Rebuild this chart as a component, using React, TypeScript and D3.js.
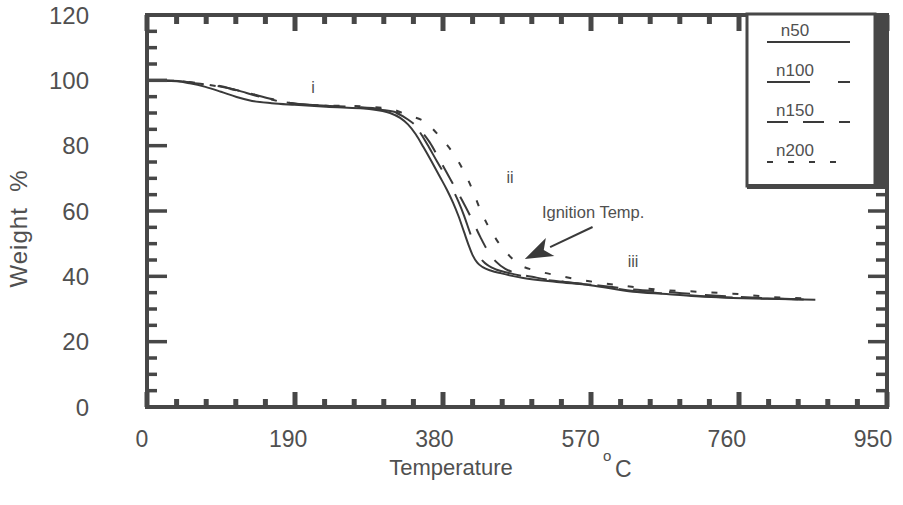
import React from 'react';
import * as d3 from 'd3';

// ---------- data ----------
const xTickLabels = [0, 190, 380, 570, 760, 950];
const yTickLabels = [0, 20, 40, 60, 80, 100, 120];
const seriesNames = ['n50', 'n100', 'n150', 'n200'];

const n50Temp = [0, 38, 55, 75, 95, 115, 135, 160, 190, 230, 290, 312, 325, 335, 345, 355, 365, 376, 385, 393, 400, 407, 413, 418, 424, 431, 442, 455, 483, 526, 569, 624, 667, 710, 752, 796, 858];
const n50Weight = [100, 99.7, 99.1, 98, 96.5, 94.9, 93.7, 93, 92.5, 91.9, 91.1, 90, 88.5, 86.5, 83.5, 79.5, 75.3, 70.5, 66.5, 62.5, 58.4, 53.6, 49.5, 46.5, 44.2, 42.8, 41.7, 40.9, 39.5, 38.3, 37.3, 35.3, 34.6, 33.8, 33.4, 33.1, 32.8];

const n100Temp = [0, 40, 60, 90, 115, 140, 165, 190, 230, 300, 320, 333, 343, 352, 362, 372, 383, 392, 400, 407, 414, 420, 425, 431, 438, 448, 462, 490, 530, 570, 625, 670, 710, 752, 796, 850];
const n100Weight = [100, 99.8, 99.2, 98.3, 97, 95.3, 93.8, 92.9, 92.2, 91, 90.2, 88.6, 86.5, 83.5, 79.5, 75.3, 70.8, 66.8, 62.8, 58.6, 53.8, 49.8, 47, 44.7, 43.3, 42.1, 41.2, 39.7, 38.4, 37.4, 35.5, 34.7, 34, 33.5, 33.2, 32.9];

const n150Temp = [0, 40, 65, 90, 115, 140, 165, 190, 230, 290, 316, 335, 350, 363, 376, 390, 404, 417, 428, 437, 448, 460, 475, 500, 540, 580, 625, 670, 710, 752, 796, 845];
const n150Weight = [100, 99.8, 99, 98.4, 97, 95.5, 94, 92.8, 92.2, 91.5, 90.4, 88, 85, 81, 75.5, 69.5, 63.5, 57.5, 52, 48, 44.5, 42.3, 40.9, 39.6, 38.2, 37.2, 36, 35.2, 34.4, 33.8, 33.3, 32.9];

const n200Temp = [0, 40, 70, 90, 110, 132, 155, 180, 220, 280, 316, 334, 359, 376, 393, 406, 418, 428, 436, 449, 462, 479, 502, 528, 568, 616, 658, 706, 752, 800, 840];
const n200Weight = [100, 99.8, 99, 98.2, 97.2, 96, 94.5, 93, 92.4, 92, 91, 89.4, 86.9, 82.7, 77.7, 72.5, 66.4, 60.3, 56.3, 51.1, 47.1, 43.5, 41.6, 40.2, 38.5, 37, 35.9, 35.3, 34.7, 33.7, 33.3];

const regionLabels = ['i', 'ii', 'iii'];
const regionTemp = [213, 466, 624];
const regionWeight = [96, 68.6, 42.9];

const ignitionText = 'Ignition Temp.';
const ignitionTextAt = [507, 57.9];
const arrowFrom = [572, 55.1];
const arrowTo = [485, 45.3];

// ---------- styling ----------
const W = 903;
const H = 505;
const INK = '#474747';
const LINE = '#3a3a3a';
const TEXT = '#505050';
const FONT = '"Liberation Sans", Arial, Helvetica, sans-serif';
const dashes = ['none', '43 28', '21 15', '6 15'];

export default function App() {
  const x = d3.scaleLinear().domain([0, 950]).range([147, 887]);
  const xLab = d3.scaleLinear().domain([0, 950]).range([142, 873]);
  const y = d3.scaleLinear().domain([0, 120]).range([407, 15]);

  const series = [
    { name: seriesNames[0], t: n50Temp, w: n50Weight },
    { name: seriesNames[1], t: n100Temp, w: n100Weight },
    { name: seriesNames[2], t: n150Temp, w: n150Weight },
    { name: seriesNames[3], t: n200Temp, w: n200Weight },
  ];

  const line = d3
    .line<[number, number]>()
    .x((d) => x(d[0]))
    .y((d) => y(d[1]))
    .curve(d3.curveMonotoneX);

  const xMinor = d3.range(0, 950 + 1, 38);
  const yMinor = d3.range(0, 120 + 1, 5);

  const x0 = x(0), x1 = x(950), y0 = y(0), y1 = y(120);

  // arrow geometry
  const ax1 = x(arrowFrom[0]), ay1 = y(arrowFrom[1]);
  const ax2 = x(arrowTo[0]), ay2 = y(arrowTo[1]);
  const ang = Math.atan2(ay2 - ay1, ax2 - ax1);
  const headLen = 28, headW = 10, notch = 7;
  const bx = ax2 - headLen * Math.cos(ang), by = ay2 - headLen * Math.sin(ang);
  const px = -Math.sin(ang), py = Math.cos(ang);
  const head = `${ax2},${ay2} ${bx + px * headW},${by + py * headW} ${bx + notch * Math.cos(ang)},${by + notch * Math.sin(ang)} ${bx - px * headW},${by - py * headW}`;

  // legend layout
  const lgX = 747, lgY = 14, lgR = 875, lgB = 186;

  return (
    <svg width={W} height={H} style={{ display: 'block', position: 'absolute', left: 0, top: 0, background: '#fff' }}>
      <rect x={0} y={0} width={W} height={H} fill="#fff" />

      {/* curves */}
      {series.map((s, i) => (
        <path
          key={s.name}
          d={line(s.t.map((t, k) => [t, s.w[k]] as [number, number])) || ''}
          fill="none"
          stroke={LINE}
          strokeWidth={2}
          strokeDasharray={dashes[i]}
        />
      ))}

      {/* ticks */}
      {xMinor.map((v, i) => {
        const major = i % 5 === 0;
        return (
          <g key={'xt' + v}>
            <line x1={x(v)} x2={x(v)} y1={y0} y2={y0 - (major ? 15 : 8)} stroke={INK} strokeWidth={5} />
            <line x1={x(v)} x2={x(v)} y1={y1} y2={y1 + (major ? 16 : 9)} stroke={INK} strokeWidth={5} />
          </g>
        );
      })}
      {yMinor.map((v, i) => {
        const major = i % 4 === 0;
        return (
          <g key={'yt' + v}>
            <line x1={x0} x2={x0 + (major ? 20 : 10)} y1={y(v)} y2={y(v)} stroke={INK} strokeWidth={3.5} />
            <line x1={x1} x2={x1 - (major ? 19 : 11)} y1={y(v)} y2={y(v)} stroke={INK} strokeWidth={3.5} />
          </g>
        );
      })}

      {/* frame */}
      <rect x={x0} y={y1} width={x1 - x0} height={y0 - y1} fill="none" stroke={INK} strokeWidth={4} />

      {/* tick labels */}
      {xTickLabels.map((v) => (
        <text key={'xl' + v} x={xLab(v)} y={447} textAnchor="middle" fontFamily={FONT} fontSize={23} fill={TEXT}>
          {v}
        </text>
      ))}
      {yTickLabels.map((v) => (
        <text key={'yl' + v} x={89} y={y(v) + 8.5} textAnchor="end" fontFamily={FONT} fontSize={24} fill={TEXT}>
          {v}
        </text>
      ))}

      {/* axis titles */}
      <text x={451} y={475} textAnchor="middle" fontFamily={FONT} fontSize={22} fill={TEXT}>
        Temperature
      </text>
      <text x={603} y={461} fontFamily={FONT} fontSize={15} fill={TEXT}>o</text>
      <text x={615} y={477} fontFamily={FONT} fontSize={23} fill={TEXT}>C</text>
      <text
        transform="translate(27,229) rotate(-90)"
        textAnchor="middle"
        fontFamily={FONT}
        fontSize={24}
        fill={TEXT}
        textLength={117}
        lengthAdjust="spacing"
        style={{ whiteSpace: 'pre' }}
      >
        {'Weight  %'}
      </text>

      {/* region labels */}
      {regionLabels.map((t, i) => (
        <text key={t} x={x(regionTemp[i])} y={y(regionWeight[i])} textAnchor="middle" fontFamily={FONT} fontSize={16} fill={TEXT}>
          {t}
        </text>
      ))}

      {/* ignition annotation */}
      <text x={x(ignitionTextAt[0])} y={y(ignitionTextAt[1])} fontFamily={FONT} fontSize={16.5} fill={TEXT}>
        {ignitionText}
      </text>
      <line x1={ax1} y1={ay1} x2={bx} y2={by} stroke={LINE} strokeWidth={2} />
      <polygon points={head} fill={LINE} />

      {/* legend */}
      <rect x={lgX} y={lgY} width={lgR - lgX} height={lgB - lgY} fill="#fff" stroke={INK} strokeWidth={3} />
      <rect x={lgR} y={lgY} width={x1 + 2 - lgR} height={lgB + 3 - lgY} fill={INK} />
      <rect x={lgX} y={lgB - 2} width={lgR - lgX} height={5} fill={INK} />
      {seriesNames.map((n, i) => {
        const base = 36 + i * 40;
        return (
          <g key={'lg' + n}>
            <text x={795} y={base} textAnchor="middle" fontFamily={FONT} fontSize={17} fill={TEXT}>
              {n}
            </text>
            <line x1={767} x2={850} y1={base + 6} y2={base + 6} stroke={LINE} strokeWidth={2} strokeDasharray={dashes[i]} />
          </g>
        );
      })}
    </svg>
  );
}
